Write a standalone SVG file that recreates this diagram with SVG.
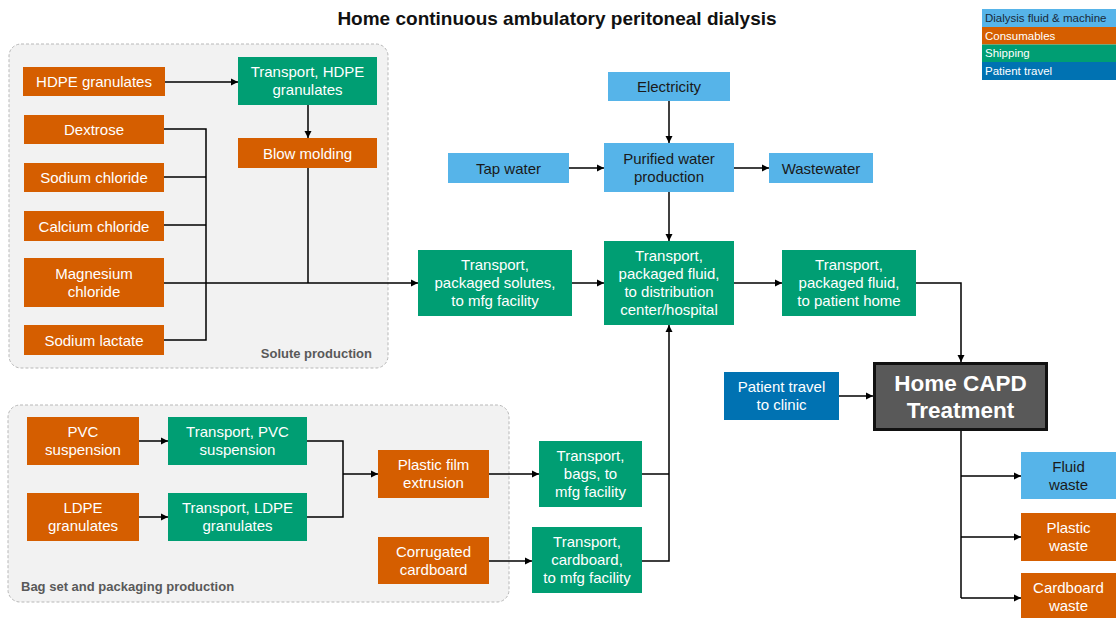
<svg xmlns="http://www.w3.org/2000/svg" width="1117" height="618" viewBox="0 0 1117 618">
<defs>
<style>
.o{fill:#D55E00}
.g{fill:#009E73}
.lb{fill:#56B4E9}
.b{fill:#0072B2}
.grp{fill:#f2f2f2;stroke:#b8b8b8;stroke-width:1;stroke-dasharray:3 2}
.gl{font-family:"Liberation Sans",Arial,sans-serif;font-size:13px;font-weight:bold;fill:#595959}
text{font-family:"Liberation Sans",Arial,sans-serif}
.t{font-size:15px;fill:#ffffff;text-anchor:middle}
.td{font-size:15px;fill:#1a1a1a;text-anchor:middle}
.lg{font-size:11.5px;fill:#ffffff}
.c path{fill:none;stroke:#000;stroke-width:1.5}
</style>
<marker id="ar" markerWidth="8" markerHeight="8" refX="7" refY="4" orient="auto" markerUnits="userSpaceOnUse">
<path d="M0,0.5 L7,4 L0,7.5 Z" fill="#000"/>
</marker>
</defs>
<rect width="1117" height="618" fill="#ffffff"/>
<text x="557" y="25" text-anchor="middle" style="font-size:19px;font-weight:bold;fill:#111">Home continuous ambulatory peritoneal dialysis</text>

<g id="legend">
<rect x="982" y="9" width="134" height="18" class="lb"/>
<rect x="982" y="27" width="134" height="17.5" class="o"/>
<rect x="982" y="44.5" width="134" height="17.5" class="g"/>
<rect x="982" y="62" width="134" height="18" class="b"/>
<text x="985" y="22" class="lg" style="fill:#1a2a3a">Dialysis fluid &amp; machine</text>
<text x="985" y="39.5" class="lg">Consumables</text>
<text x="985" y="57" class="lg">Shipping</text>
<text x="985" y="75" class="lg">Patient travel</text>
</g>

<g id="group-solute">
<rect x="9" y="44" width="379" height="324" rx="12" class="grp"/>
<text x="372" y="358" text-anchor="end" class="gl">Solute production</text>
</g>
<g id="group-bag">
<rect x="8" y="405" width="501" height="197" rx="12" class="grp"/>
<text x="21" y="591" class="gl">Bag set and packaging production</text>
</g>

<g class="c" id="connectors">
<path d="M165,82 H238" marker-end="url(#ar)"/>
<path d="M308,105 V138" marker-end="url(#ar)"/>
<path d="M164,129 H206 V340 H164"/>
<path d="M164,177 H206"/>
<path d="M164,225 H206"/>
<path d="M308,168 V283"/>
<path d="M164,283 H418" marker-end="url(#ar)"/>
<path d="M669,101 V143" marker-end="url(#ar)"/>
<path d="M569,168 H604" marker-end="url(#ar)"/>
<path d="M734,168 H769" marker-end="url(#ar)"/>
<path d="M669,192 V241" marker-end="url(#ar)"/>
<path d="M572,283 H604" marker-end="url(#ar)"/>
<path d="M734,283 H782" marker-end="url(#ar)"/>
<path d="M916,283 H961 V362" marker-end="url(#ar)"/>
<path d="M839,396 H873" marker-end="url(#ar)"/>
<path d="M961,431 V598"/>
<path d="M961,476 H1021" marker-end="url(#ar)"/>
<path d="M961,537 H1021" marker-end="url(#ar)"/>
<path d="M961,598 H1021" marker-end="url(#ar)"/>
<path d="M139,441 H168" marker-end="url(#ar)"/>
<path d="M139,517 H168" marker-end="url(#ar)"/>
<path d="M307,441 H343 V517 H307"/>
<path d="M343,474 H378" marker-end="url(#ar)"/>
<path d="M489,474 H539" marker-end="url(#ar)"/>
<path d="M489,561 H532" marker-end="url(#ar)"/>
<path d="M642,474 H669"/>
<path d="M642,561 H669 V325" marker-end="url(#ar)"/>
</g>

<g id="hdpe"><rect x="23" y="67" width="142" height="29" class="o"/><text x="94" y="87" class="t">HDPE granulates</text></g>
<g id="dextrose"><rect x="24" y="115" width="140" height="29" class="o"/><text x="94" y="135" class="t">Dextrose</text></g>
<g id="nacl"><rect x="24" y="163" width="140" height="29" class="o"/><text x="94" y="183" class="t">Sodium chloride</text></g>
<g id="cacl"><rect x="24" y="211" width="140" height="30" class="o"/><text x="94" y="231.5" class="t">Calcium chloride</text></g>
<g id="mgcl"><rect x="24" y="258" width="140" height="49" class="o"/><text x="94" y="279" class="t">Magnesium</text><text x="94" y="297" class="t">chloride</text></g>
<g id="lactate"><rect x="24" y="325" width="140" height="30" class="o"/><text x="94" y="345.5" class="t">Sodium lactate</text></g>
<g id="transport-hdpe"><rect x="238" y="57" width="139" height="48" class="g"/><text x="307.5" y="77" class="t">Transport, HDPE</text><text x="307.5" y="95" class="t">granulates</text></g>
<g id="blow"><rect x="238" y="138" width="139" height="30" class="o"/><text x="307.5" y="158.5" class="t">Blow molding</text></g>

<g id="electricity"><rect x="608" y="72" width="122" height="29" class="lb"/><text x="669" y="92" class="td">Electricity</text></g>
<g id="purified"><rect x="604" y="143" width="130" height="49" class="lb"/><text x="669" y="163.5" class="td">Purified water</text><text x="669" y="181.5" class="td">production</text></g>
<g id="tap"><rect x="448" y="153" width="121" height="30" class="lb"/><text x="508.5" y="173.5" class="td">Tap water</text></g>
<g id="wastewater"><rect x="769" y="153" width="104" height="30" class="lb"/><text x="821" y="173.5" class="td">Wastewater</text></g>
<g id="t-solutes"><rect x="418" y="250" width="154" height="66" class="g"/><text x="495" y="270" class="t">Transport,</text><text x="495" y="288" class="t">packaged solutes,</text><text x="495" y="306" class="t">to mfg facility</text></g>
<g id="t-fluid"><rect x="604" y="241" width="130" height="84" class="g"/><text x="669" y="261" class="t">Transport,</text><text x="669" y="279" class="t">packaged fluid,</text><text x="669" y="297" class="t">to distribution</text><text x="669" y="315" class="t">center/hospital</text></g>
<g id="t-home"><rect x="782" y="250" width="134" height="66" class="g"/><text x="849" y="270" class="t">Transport,</text><text x="849" y="288" class="t">packaged fluid,</text><text x="849" y="306" class="t">to patient home</text></g>

<g id="patient-travel"><rect x="724" y="372" width="115" height="48" class="b"/><text x="781.5" y="392" class="t">Patient travel</text><text x="781.5" y="410" class="t">to clinic</text></g>
<g id="capd"><rect x="874.5" y="363.5" width="172" height="66" fill="#595959" stroke="#111" stroke-width="3"/><text x="960.5" y="391" class="t" style="font-size:22.5px;font-weight:bold">Home CAPD</text><text x="960.5" y="418" class="t" style="font-size:22.5px;font-weight:bold">Treatment</text></g>
<g id="fluid-waste"><rect x="1021" y="452" width="95" height="47" class="lb"/><text x="1068.5" y="471.5" class="td">Fluid</text><text x="1068.5" y="489.5" class="td">waste</text></g>
<g id="plastic-waste"><rect x="1021" y="513" width="95" height="48" class="o"/><text x="1068.5" y="532.5" class="t">Plastic</text><text x="1068.5" y="550.5" class="t">waste</text></g>
<g id="cardboard-waste"><rect x="1021" y="573" width="95" height="50" class="o"/><text x="1068.5" y="593" class="t">Cardboard</text><text x="1068.5" y="611" class="t">waste</text></g>

<g id="pvc"><rect x="27" y="417" width="112" height="48" class="o"/><text x="83" y="437" class="t">PVC</text><text x="83" y="455" class="t">suspension</text></g>
<g id="t-pvc"><rect x="168" y="417" width="139" height="48" class="g"/><text x="237.5" y="437" class="t">Transport, PVC</text><text x="237.5" y="455" class="t">suspension</text></g>
<g id="ldpe"><rect x="27" y="493" width="112" height="48" class="o"/><text x="83" y="513" class="t">LDPE</text><text x="83" y="531" class="t">granulates</text></g>
<g id="t-ldpe"><rect x="168" y="493" width="139" height="48" class="g"/><text x="237.5" y="513" class="t">Transport, LDPE</text><text x="237.5" y="531" class="t">granulates</text></g>
<g id="film"><rect x="378" y="450" width="111" height="48" class="o"/><text x="433.5" y="470" class="t">Plastic film</text><text x="433.5" y="488" class="t">extrusion</text></g>
<g id="t-bags"><rect x="539" y="441" width="103" height="66" class="g"/><text x="590.5" y="461" class="t">Transport,</text><text x="590.5" y="479" class="t">bags, to</text><text x="590.5" y="497" class="t">mfg facility</text></g>
<g id="corrugated"><rect x="378" y="537" width="111" height="47" class="o"/><text x="433.5" y="556.5" class="t">Corrugated</text><text x="433.5" y="574.5" class="t">cardboard</text></g>
<g id="t-cardboard"><rect x="532" y="527" width="110" height="66" class="g"/><text x="587" y="547" class="t">Transport,</text><text x="587" y="565" class="t">cardboard,</text><text x="587" y="583" class="t">to mfg facility</text></g>
</svg>
